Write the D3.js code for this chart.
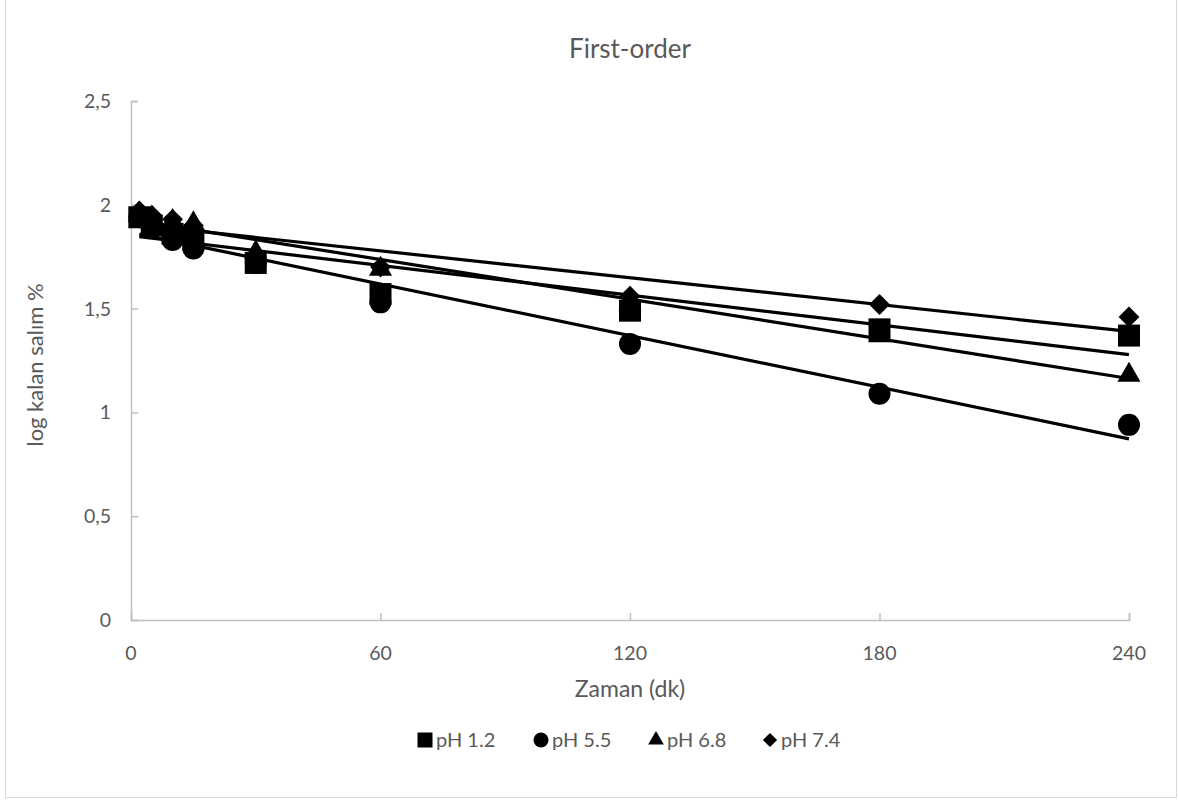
<!DOCTYPE html>
<html><head><meta charset="utf-8">
<script src="https://cdn.jsdelivr.net/npm/d3@7"></script>
<style>body{margin:0;background:#fff;} svg{display:block;}</style>
</head><body>
<svg id="chart" width="1178" height="800"></svg>
<script>
const times = [2, 5, 10, 15, 30, 60, 120, 180, 240];
const seriesNames = ["pH 1.2", "pH 5.5", "pH 6.8", "pH 7.4"];
const ph12 = [1.94, 1.90, 1.86, 1.83, 1.72, 1.57, 1.49, 1.40, 1.37];
const ph55 = [1.94, 1.89, 1.83, 1.79, 1.72, 1.53, 1.33, 1.09, 0.94];
const ph68 = [1.95, 1.93, 1.92, 1.91, 1.77, 1.69, 1.52, 1.37, 1.18];
const ph74 = [1.97, 1.95, 1.93, 1.90, 1.75, 1.70, 1.56, 1.52, 1.46];
const symbols = ["square", "circle", "triangle", "diamond"];
const xTicks = [0, 60, 120, 180, 240];
const yTicks = [0, 0.5, 1, 1.5, 2, 2.5];

const seriesValues = [ph12, ph55, ph68, ph74];
const font = "Lato, 'Open Sans', sans-serif";
const svg = d3.select("#chart");
const m = {left: 131, right: 1129, top: 101, bottom: 620};
const x = d3.scaleLinear().domain([0, 240]).range([m.left, m.right]);
const y = d3.scaleLinear().domain([0, 2.5]).range([m.bottom, m.top]);

// chart border
svg.append("rect").attr("x", 5.5).attr("y", -2).attr("width", 1171).attr("height", 799.5)
  .attr("fill", "none").attr("stroke", "#d9d9d9");

// title
svg.append("text").attr("x", 630).attr("y", 58).attr("text-anchor", "middle")
  .attr("font-family", font).attr("font-size", 26).attr("fill", "#595959").text("First-order");

// axes
const fmt = d => String(d).replace(".", ",");
const yAxis = svg.append("g").attr("transform", `translate(${m.left},0)`)
  .call(d3.axisRight(y).tickValues(yTicks).tickSize(7).tickFormat(""));
const xAxis = svg.append("g").attr("transform", `translate(0,${m.bottom})`)
  .call(d3.axisTop(x).tickValues(xTicks).tickSize(7).tickFormat(""));
[xAxis, yAxis].forEach(a => {
  a.select(".domain").attr("stroke", "#bfbfbf").attr("stroke-width", 1.5);
  a.selectAll(".tick line").attr("stroke", "#bfbfbf").attr("stroke-width", 1.5);
});
svg.append("g").selectAll("text").data(yTicks).join("text")
  .attr("x", 111).attr("y", d => y(d) + 7).attr("text-anchor", "end")
  .attr("font-family", font).attr("font-size", 19.5).attr("fill", "#595959").text(fmt);
svg.append("g").selectAll("text").data(xTicks).join("text")
  .attr("x", d => x(d)).attr("y", 660).attr("text-anchor", "middle")
  .attr("font-family", font).attr("font-size", 19.5).attr("fill", "#595959").text(fmt);

svg.append("text").attr("x", 630).attr("y", 697).attr("text-anchor", "middle")
  .attr("font-family", font).attr("font-size", 23).attr("fill", "#595959").text("Zaman (dk)");
svg.append("text").attr("transform", "translate(43,365) rotate(-90)").attr("text-anchor", "middle")
  .attr("font-family", font).attr("font-size", 22).attr("fill", "#595959").text("log kalan salım %");

const symType = {square: d3.symbolSquare, circle: d3.symbolCircle, triangle: d3.symbolTriangle, diamond: d3.symbolDiamond2};
function symPath(name, w) {
  const areas = {square: w*w, circle: Math.PI*w*w/4, triangle: w*w*Math.sqrt(3)/4*1.1, diamond: w*w/2*1.15};
  return d3.symbol().type(symType[name]).size(areas[name])();
}

// markers
seriesValues.forEach((vals, i) => {
  svg.append("g").selectAll("path").data(vals).join("path")
    .attr("d", symPath(symbols[i], 22))
    .attr("transform", (d, j) => `translate(${x(times[j])},${y(d)})`)
    .attr("fill", "#000");
});

// linear trendlines (least squares)
seriesValues.forEach(vals => {
  const n = vals.length;
  const mt = d3.mean(times), mv = d3.mean(vals);
  let sxy = 0, sxx = 0;
  for (let j = 0; j < n; j++) { sxy += (times[j]-mt)*(vals[j]-mv); sxx += (times[j]-mt)**2; }
  const b = sxy / sxx, a = mv - b*mt;
  const t0 = d3.min(times), t1 = d3.max(times);
  svg.append("line").attr("x1", x(t0)).attr("y1", y(a + b*t0)).attr("x2", x(t1)).attr("y2", y(a + b*t1))
    .attr("stroke", "#000").attr("stroke-width", 3.2);
});

// legend
const legX = [425, 541, 656, 770];
seriesNames.forEach((name, i) => {
  svg.append("path").attr("d", symPath(symbols[i], 15))
    .attr("transform", `translate(${legX[i]},740)`).attr("fill", "#000");
  svg.append("text").attr("x", legX[i] + 11).attr("y", 747)
    .attr("font-family", font).attr("font-size", 20).attr("fill", "#595959").text(name);
});
</script>
</body></html>
